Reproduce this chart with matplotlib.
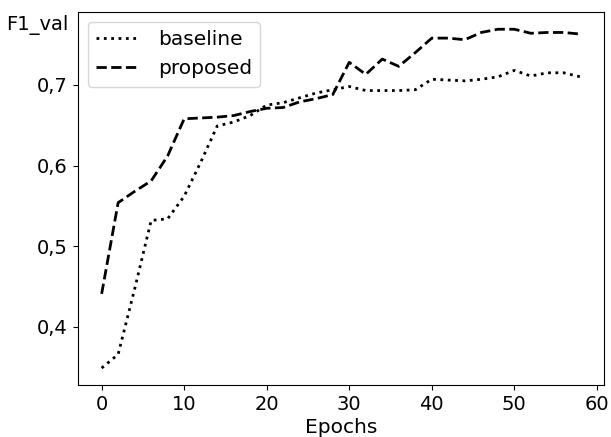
import matplotlib
matplotlib.use("Agg")
import matplotlib.pyplot as plt
from matplotlib.ticker import FuncFormatter

epochs = list(range(0, 60, 2))
baseline = [0.349, 0.366, 0.447, 0.532, 0.534, 0.562, 0.604, 0.649, 0.654, 0.662,
            0.675, 0.678, 0.684, 0.690, 0.694, 0.698, 0.693, 0.693, 0.693, 0.694,
            0.707, 0.706, 0.705, 0.707, 0.710, 0.718, 0.711, 0.715, 0.715, 0.710]
proposed = [0.441, 0.554, 0.568, 0.581, 0.612, 0.658, 0.659, 0.660, 0.662, 0.667,
            0.671, 0.672, 0.679, 0.683, 0.688, 0.728, 0.713, 0.732, 0.723, 0.740,
            0.758, 0.758, 0.756, 0.765, 0.769, 0.769, 0.764, 0.765, 0.765, 0.763]

plt.rcParams['font.size'] = 14
fig = plt.figure(figsize=(6.11, 4.37), dpi=100)
ax = fig.add_axes([77.7/611, 1-385/437, (604.3-77.7)/611, (385-12.3)/437])

ax.plot(epochs, baseline, linestyle=':', color='black', linewidth=2, label='baseline')
ax.plot(epochs, proposed, linestyle='--', color='black', linewidth=2, label='proposed')

ax.set_yticks([0.4, 0.5, 0.6, 0.7])
ax.yaxis.set_major_formatter(FuncFormatter(lambda v, p: f"{v:.1f}".replace('.', ',')))
ax.set_xticks([0, 10, 20, 30, 40, 50, 60])
ax.set_xlabel('Epochs', labelpad=3, fontsize=14.5)
ax.set_ylabel('F1_val', rotation=0, ha='right', va='center')
ax.yaxis.set_label_coords(-0.018, 0.966)
ax.legend(loc='upper left', fontsize=14.5, handletextpad=1.1)

fig.savefig('out.png', dpi=100)
